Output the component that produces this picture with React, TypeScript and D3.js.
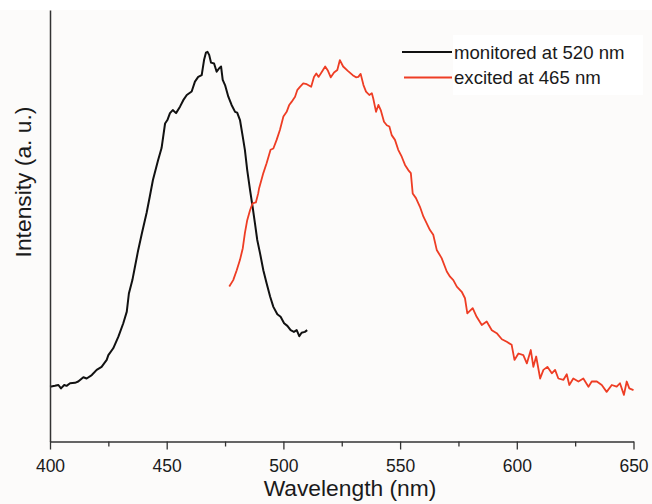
import React, { useEffect, useRef } from 'react'
import * as d3 from 'd3'

// excitation spectrum, monitored at 520 nm
const monitoredNm = [
  400, 402.1, 403.6, 404.7, 406.1, 407.1, 408.6, 410.7, 412.1, 414.3, 415.7, 417.9, 420, 422.1, 424.3, 425,
  427.1, 429.3, 431.4, 432.9, 433.8, 435.3, 436.4, 437.8, 439.4, 441.4, 442.8, 444.1, 446.3, 447.8, 449.3,
  450.3, 451.4, 452.6, 454, 455.7, 457.1, 458.6, 460.7, 462.1, 463.5, 465, 466, 466.8, 467.5, 468.2, 469,
  470.3, 471.4, 472.5, 473.3, 474, 475, 476.4, 477.8, 479.3, 480.2, 481.4, 482.6, 483.5, 484.5, 485.7, 486.8,
  487.8, 488.8, 490, 491.4, 492.8, 494.3, 495.7, 497.4, 498.8, 500.3, 501.7, 503.1, 504.5, 505.7, 506.8,
  507.8, 509.2, 510.2
]
const monitoredI = [
  127, 129, 131, 123, 131, 129, 135, 136, 139, 149, 146, 154, 166, 173, 189, 200,
  216, 243, 274, 301, 343, 374, 405, 444, 483, 530, 569, 606, 652, 680, 737,
  745, 761, 768, 761, 776, 791, 803, 811, 834, 845, 849, 884, 901, 903, 896, 878,
  876, 857, 865, 869, 838, 826, 799, 780, 764, 762, 745, 706, 676, 629, 583, 544,
  506, 467, 436, 397, 367, 336, 312, 295, 289, 274, 268, 258, 254, 258, 244,
  252, 254, 258
]

// emission spectrum, excited at 465 nm
const excitedNm = [
  476.8, 478.5, 480, 481.4, 482.6, 483.5, 484.5, 485.7, 486.8, 488.2, 489.2, 489.6, 491.4, 492.8, 494.5,
  495.7, 497.1, 498.5, 500, 501.4, 502.5, 503.5, 505, 506, 507.1, 508.5, 510, 511.9, 513.1, 514.1, 515.1,
  516.5, 517.9, 519.1, 520.3, 521.7, 523.1, 524.2, 525.6, 527.6, 529.7, 531.1, 532.1, 533.1, 534.3, 535.4,
  536.8, 537.9, 538.5, 539.7, 540.7, 541.7, 543.1, 544.3, 545.4, 546.4, 547.8, 549.2, 550.7, 552.1, 553.5,
  554.6, 555.4, 556.8, 558.5, 560, 562.8, 564.2, 565.7, 567.8, 570, 571.4, 572.8, 574.3, 576.4, 577.8,
  578.8, 581.1, 582.8, 585, 587.1, 589.3, 591.4, 593.6, 595.7, 597.8, 599, 600.7, 602.8, 604.3, 606, 607.1,
  608.3, 610, 611.4, 613.1, 615, 616.4, 617.8, 620, 621.4, 622.5, 624.2, 626.4, 628.5, 630.7, 632.1, 634.3,
  636.4, 638.5, 640.7, 642.8, 644.2, 645.9, 647.1, 648.2, 650
]
const excitedI = [
  359, 374, 397, 421, 448, 483, 513, 536, 552, 554, 575, 587, 622, 645, 676,
  679, 699, 722, 753, 764, 780, 787, 799, 815, 822, 830, 828, 822, 845, 853, 845,
  857, 869, 859, 844, 855, 861, 884, 869, 859, 849, 844, 845, 852, 826, 811,
  803, 807, 795, 764, 780, 768, 741, 733, 730, 710, 699, 676, 660, 641, 629,
  622, 575, 564, 544, 521, 490, 479, 444, 425, 394, 382, 374, 359, 347, 332,
  297, 309, 289, 270, 278, 258, 251, 237, 231, 224, 189, 204, 200, 181, 212, 173,
  197, 146, 166, 173, 158, 166, 146, 143, 156, 131, 146, 139, 146, 127, 139, 139,
  131, 115, 131, 127, 135, 108, 139, 123, 119
]

const majorTicks = [400, 450, 500, 550, 600, 650]
const minorTicks = [425, 475, 525, 575, 625]

const seriesNames = ['monitored at 520 nm', 'excited at 465 nm']
const seriesColors = ['#111111', '#ee3d24']

const FONT = '"Liberation Sans", Arial, Helvetica, sans-serif'

export default function App() {
  const svgRef = useRef<SVGSVGElement | null>(null)

  useEffect(() => {
    if (!svgRef.current) {
      return
    }
    const width = 652
    const height = 504
    const left = 50
    const right = 633.5
    const top = 10
    const bottom = 441.5

    const svg = d3.select(svgRef.current)
    svg.selectAll('*').remove()
    svg.attr('viewBox', `0 0 ${width} ${height}`)

    svg.append('rect').attr('width', width).attr('height', height).attr('fill', '#fcfbfa')
    svg.append('rect').attr('width', width).attr('height', top).attr('fill', '#ffffff')

    const x = d3.scaleLinear().domain([400, 650]).range([left, right])
    const y = d3.scaleLinear().domain([0, 1000]).range([bottom, top])

    const line = d3
      .line<[number, number]>()
      .x((d) => x(d[0]))
      .y((d) => y(d[1]))

    const series: [number, number][][] = [
      monitoredNm.map((v, i) => [v, monitoredI[i]]),
      excitedNm.map((v, i) => [v, excitedI[i]])
    ]

    series.forEach((pts, i) => {
      svg
        .append('path')
        .datum(pts)
        .attr('d', line)
        .attr('fill', 'none')
        .attr('stroke', seriesColors[i])
        .attr('stroke-width', i === 0 ? 2 : 1.8)
        .attr('stroke-linejoin', 'round')
    })

    // minor ticks
    svg
      .append('g')
      .attr('transform', `translate(0,${bottom})`)
      .call(d3.axisBottom(x).tickValues(minorTicks).tickSize(5).tickSizeOuter(0).tickFormat(() => ''))
      .call((g) => g.select('.domain').remove())
      .call((g) => g.selectAll('line').attr('stroke', '#333').attr('stroke-width', 1.3))

    const xAxis = svg
      .append('g')
      .attr('transform', `translate(0,${bottom})`)
      .call(d3.axisBottom(x).tickValues(majorTicks).tickSize(8).tickSizeOuter(0).tickPadding(10).tickFormat(d3.format('d')))
    xAxis.select('.domain').attr('stroke', '#333').attr('stroke-width', 1.5)
    xAxis.selectAll('line').attr('stroke', '#333').attr('stroke-width', 1.3)
    xAxis
      .selectAll('text')
      .attr('font-family', FONT)
      .attr('font-size', 17.5)
      .attr('fill', '#1a1a1a')

    const yAxis = svg
      .append('g')
      .attr('transform', `translate(${left},0)`)
      .call(d3.axisLeft(y).tickValues([]).tickSizeOuter(0))
    yAxis.select('.domain').attr('stroke', '#333').attr('stroke-width', 1.5)

    svg
      .append('text')
      .attr('x', 350)
      .attr('y', 496)
      .attr('text-anchor', 'middle')
      .attr('font-family', FONT)
      .attr('font-size', 22.8)
      .attr('fill', '#1a1a1a')
      .text('Wavelength (nm)')

    svg
      .append('text')
      .attr('transform', 'translate(31,182) rotate(-90)')
      .attr('text-anchor', 'middle')
      .attr('font-family', FONT)
      .attr('font-size', 22.8)
      .attr('fill', '#1a1a1a')
      .text('Intensity (a. u.)')

    const legend = svg.append('g')
    legend.append('rect').attr('x', 453).attr('y', 35).attr('width', 190).attr('height', 60).attr('fill', '#ffffff')
    seriesNames.forEach((name, i) => {
      const ly = 52 + i * 25.5
      legend
        .append('line')
        .attr('x1', i === 0 ? 402 : 404)
        .attr('x2', 452)
        .attr('y1', ly)
        .attr('y2', ly)
        .attr('stroke', seriesColors[i])
        .attr('stroke-width', 2)
      legend
        .append('text')
        .attr('x', 454)
        .attr('y', ly + 6.5)
        .attr('font-family', FONT)
        .attr('font-size', 18.6)
        .attr('fill', '#1a1a1a')
        .text(name)
    })
  }, [])

  return (
    <svg
      ref={svgRef}
      width={652}
      height={504}
      style={{ position: 'absolute', left: 0, top: 0, display: 'block' }}
      role="img"
      aria-label="Excitation and emission spectra"
    />
  )
}
